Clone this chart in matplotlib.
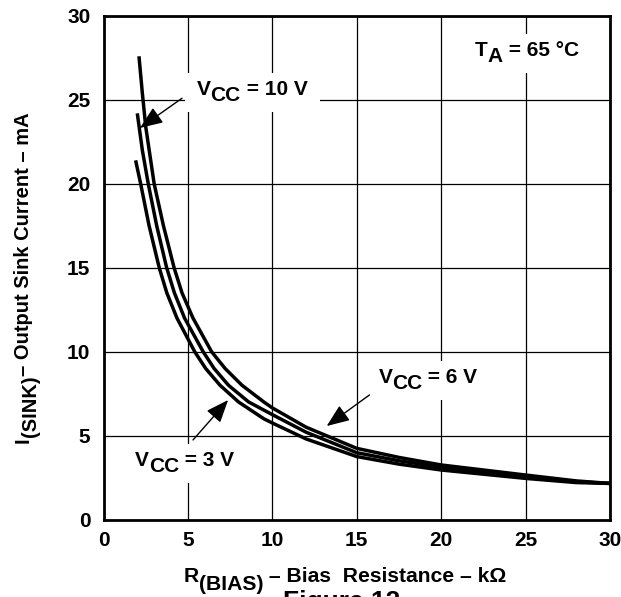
import matplotlib
matplotlib.use('Agg')
import matplotlib.pyplot as plt
from matplotlib.patches import Rectangle
from matplotlib.transforms import offset_copy, IdentityTransform, Bbox

plt.rcParams['font.family'] = ['Liberation Sans', 'DejaVu Sans']
plt.rcParams['font.weight'] = 'bold'

# R(BIAS) in kOhm, I(SINK) in mA
r_3v = [1.9, 2.2, 2.7, 3.3, 3.75, 4.35, 5.4, 6.05, 6.9, 8.0, 9.5, 10, 12, 15, 17.5, 20, 25, 28, 30]
i_3v = [21.4, 20.0, 17.5, 15.0, 13.5, 12.0, 10.0, 9.0, 8.0, 7.0, 6.0, 5.75, 4.8, 3.75, 3.3, 2.95, 2.45, 2.2, 2.15]
r_6v = [2.0, 2.3, 2.65, 3.15, 3.74, 4.2, 4.8, 5.9, 6.55, 7.4, 8.6, 10, 12, 15, 17.5, 20, 25, 28, 30]
i_6v = [24.2, 22.0, 20.0, 17.5, 15.0, 13.5, 12.0, 10.0, 9.0, 8.0, 7.0, 6.25, 5.2, 3.98, 3.5, 3.11, 2.55, 2.25, 2.15]
r_10v = [2.1, 2.3, 2.5, 3.0, 3.55, 4.18, 4.65, 5.3, 6.4, 7.2, 8.2, 9.5, 10, 12, 15, 17.5, 20, 25, 28, 30]
i_10v = [27.6, 25.4, 23.4, 20.0, 17.5, 15.0, 13.5, 12.0, 10.0, 9.0, 8.0, 7.0, 6.65, 5.5, 4.24, 3.7, 3.25, 2.65, 2.3, 2.15]

ticks = [0, 5, 10, 15, 20, 25, 30]

fig = plt.figure(figsize=(6.21, 5.97), dpi=100)
ax = fig.add_axes([0.1667, 0.1298, 0.8156, 0.8434])

for xs, ys in [(r_3v, i_3v), (r_6v, i_6v), (r_10v, i_10v)]:
    ax.plot(xs, ys, color='black', lw=2.5, solid_capstyle='butt',
            solid_joinstyle='round', zorder=3)

ax.set_xlim(0, 30)
ax.set_ylim(0, 30)
ax.set_xticks(ticks)
ax.set_yticks(ticks)
ax.grid(True, color='black', lw=0.9)
ax.tick_params(length=0, labelsize=15)
ax.tick_params(axis='x', pad=8)
ax.tick_params(axis='y', pad=9.5)
for s in ax.spines.values():
    s.set_linewidth(2)

renderer = fig.canvas.get_renderer()


def pieces_text(x, y, pieces, size=15, rotation=0, box=False):
    # text with a full size, lowered subscript, drawn piece by piece
    adv = 0.0
    exts = []
    for s, drop in pieces:
        if rotation == 0:
            tr = offset_copy(ax.transData, x=adv, y=-drop, units='dots')
        else:
            tr = offset_copy(ax.transData, x=drop, y=adv, units='dots')
        t = ax.text(x, y, s, transform=tr, fontsize=size, rotation=rotation,
                    rotation_mode='anchor', ha='left', va='baseline',
                    zorder=6, clip_on=False)
        e = t.get_window_extent(renderer)
        exts.append(e)
        adv += e.width if rotation == 0 else e.height
    if box:
        b = Bbox.union(exts).padded(12, 7)
        ax.add_patch(Rectangle((b.x0, b.y0), b.width, b.height, facecolor='white',
                               edgecolor='none', transform=IdentityTransform(), zorder=4))


arrow = dict(arrowstyle='-|>,head_length=0.7,head_width=0.28', color='black', lw=1,
             mutation_scale=20, shrinkA=0, shrinkB=0)

pieces_text(5.52, 25.3, [('V', 0), ('CC', 6), (' = 10 V', 0)], box=True)
ax.annotate('', xy=(2.16, 23.33), xytext=(4.65, 25.1), arrowprops=arrow, zorder=5)

pieces_text(16.28, 8.12, [('V', 0), ('CC', 6), (' = 6 V', 0)], box=True)
ax.annotate('', xy=(13.22, 5.57), xytext=(15.75, 7.42), arrowprops=arrow, zorder=5)

pieces_text(1.87, 3.19, [('V', 0), ('CC', 6), (' = 3 V', 0)], box=True)
ax.annotate('', xy=(7.38, 7.12), xytext=(5.3, 4.74), arrowprops=arrow, zorder=5)

pieces_text(22.0, 27.62, [('T', 0), ('A', 6), (' = 65 °C', 0)], box=True)

# axis titles
pieces_text(4.73, -3.71, [('R', 0), ('(BIAS)', 8), (' – Bias  Resistance – kΩ', 0)],
            size=15.2)
pieces_text(-4.44, 4.56, [('I', 0), ('(SINK)', 7), ('– Output Sink Current – mA', 0)],
            size=14.5, rotation=90)

fig.text(283 / 621, 1 - 590 / 597, 'Figure 12', fontsize=19, ha='left', va='top')

plt.savefig('out.png', dpi=100)
